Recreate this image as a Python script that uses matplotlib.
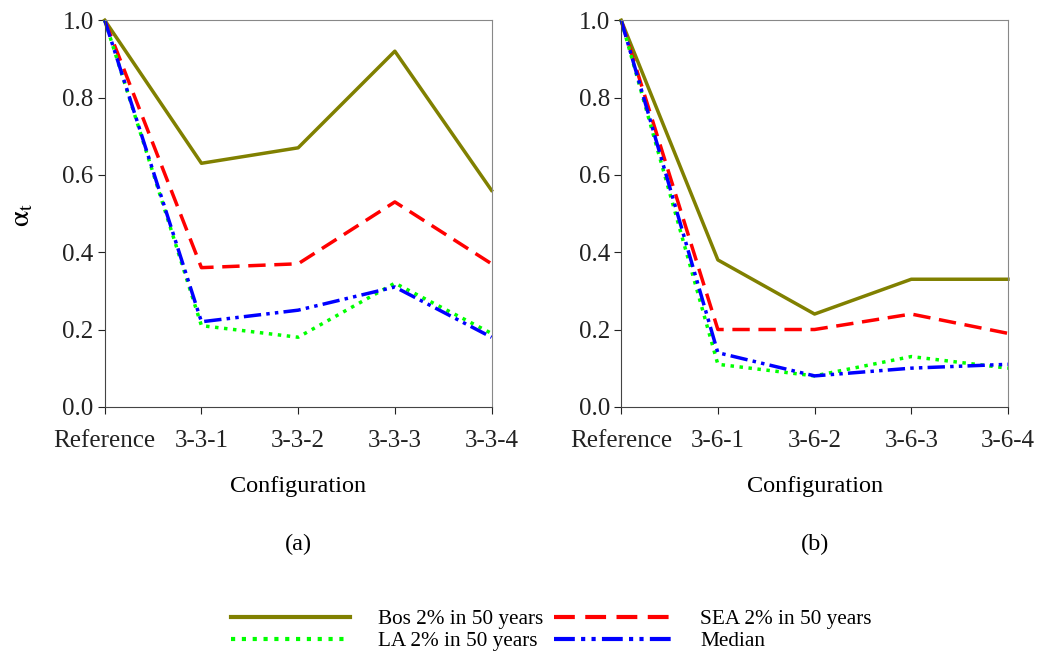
import matplotlib
matplotlib.use("Agg")
import matplotlib.pyplot as plt

plt.rcParams['font.family'] = ['Liberation Serif', 'DejaVu Serif']
plt.rcParams['mathtext.fontset'] = 'stix'

# configuration labels for each panel
configs_a = ["Reference", "3-3-1", "3-3-2", "3-3-3", "3-3-4"]
configs_b = ["Reference", "3-6-1", "3-6-2", "3-6-3", "3-6-4"]

# alpha_t values, panel (a)
bos_a = [1.0, 0.63, 0.67, 0.92, 0.56]
sea_a = [1.0, 0.36, 0.37, 0.53, 0.37]
la_a = [1.0, 0.21, 0.18, 0.32, 0.19]
med_a = [1.0, 0.22, 0.25, 0.31, 0.18]

# alpha_t values, panel (b)
bos_b = [1.0, 0.38, 0.24, 0.33, 0.33]
sea_b = [1.0, 0.20, 0.20, 0.24, 0.19]
la_b = [1.0, 0.11, 0.08, 0.13, 0.10]
med_b = [1.0, 0.14, 0.08, 0.10, 0.11]

y_ticks = [0.0, 0.2, 0.4, 0.6, 0.8, 1.0]

series_names = ["Bos 2% in 50 years", "SEA 2% in 50 years",
                "LA 2% in 50 years", "Median"]

styles = [
    dict(color="#808000", linestyle="-", linewidth=2.5),
    dict(color="#ff0000", linestyle=(0, (5, 2.5)), linewidth=2.5),
    dict(color="#00ff00", linestyle=(0, (1, 1.6)), linewidth=2.5),
    dict(color="#0000ff", linestyle=(0, (5, 1.5, 1, 1.5, 1, 1.5)), linewidth=2.5),
]

fig = plt.figure(figsize=(10.37, 6.53), dpi=100)
ax_a = fig.add_axes([0.101, 0.377, 0.373, 0.592])
ax_b = fig.add_axes([0.599, 0.377, 0.373, 0.592])

panels = [
    (ax_a, configs_a, [bos_a, sea_a, la_a, med_a], "(a)"),
    (ax_b, configs_b, [bos_b, sea_b, la_b, med_b], "(b)"),
]

handles = []
for ax, cfg, data, tag in panels:
    x = range(len(cfg))
    lines = []
    for vals, st, name in zip(data, styles, series_names):
        ln, = ax.plot(x, vals, label=name, clip_on=False, **st)
        lines.append(ln)
    handles = lines
    ax.set_xlim(0, len(cfg) - 1)
    ax.set_ylim(0, 1.0)
    ax.set_xticks(list(x))
    ax.set_xticklabels(cfg)
    ax.set_yticks(y_ticks)
    ax.set_yticklabels([f"{v:.1f}" for v in y_ticks])
    ax.tick_params(axis="both", direction="out", length=5, width=0.8,
                   labelsize=18, colors="#222222")
    ax.tick_params(axis="x", pad=12)
    ax.tick_params(axis="y", pad=3)
    for s in ["top", "right"]:
        ax.spines[s].set_color("#888888")
        ax.spines[s].set_linewidth(0.8)
    for s in ["left", "bottom"]:
        ax.spines[s].set_color("#444444")
        ax.spines[s].set_linewidth(0.8)
    ax.text(0.5, -0.207, "Configuration", transform=ax.transAxes,
            ha="center", va="center", fontsize=17.5)
    ax.text(0.5, -0.357, tag, transform=ax.transAxes, ha="center",
            va="center", fontsize=17.5)

ax_a.text(-0.214, 0.496, r"$\mathrm{α}_\mathrm{t}$", transform=ax_a.transAxes,
          rotation=90, ha="center", va="center", fontsize=21)

# legend reads row by row: Bos, SEA / LA, Median
order = [0, 2, 1, 3]
leg = fig.legend([handles[i] for i in order], [series_names[i] for i in order],
                 loc="center", bbox_to_anchor=(0.532, 0.035), ncol=2,
                 frameon=False, fontsize=15.3, handlelength=5.6,
                 handletextpad=1.3, columnspacing=0.5, labelspacing=0.1)
for ln in leg.get_lines():
    ln.set_linewidth(3.0)

fig.savefig("out.png", dpi=100)
